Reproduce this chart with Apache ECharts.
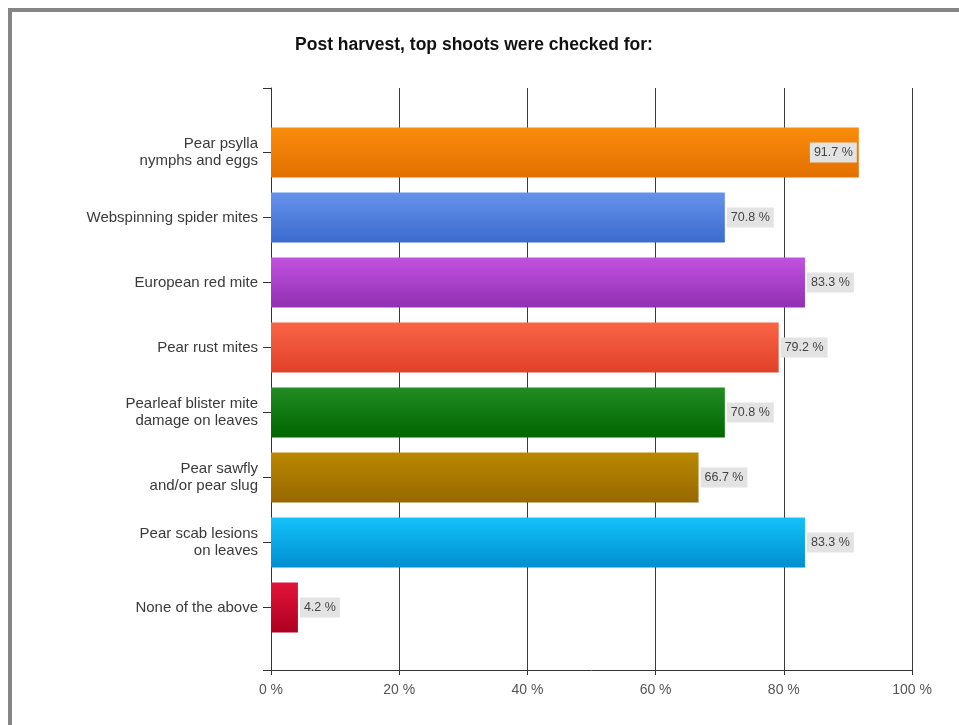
<!DOCTYPE html>
<html>
<head>
<meta charset="utf-8">
<script src="https://cdn.jsdelivr.net/npm/echarts@6/dist/echarts.min.js"></script>
<style>
html,body{margin:0;padding:0;background:#fff;}
#chart{width:959px;height:725px;}
</style>
</head>
<body>
<div id="chart"></div>
<script>
const titleText = 'Post harvest, top shoots were checked for:';
const categories = [
  'Pear psylla\nnymphs and eggs',
  'Webspinning spider mites',
  'European red mite',
  'Pear rust mites',
  'Pearleaf blister mite\ndamage on leaves',
  'Pear sawfly\nand/or pear slug',
  'Pear scab lesions\non leaves',
  'None of the above'
];
const values = [91.7, 70.8, 83.3, 79.2, 70.8, 66.7, 83.3, 4.2];
const xTicks = [0, 20, 40, 60, 80, 100];

const barColors = [
  ['#f98c0c', '#e27000'],
  ['#6592ea', '#3b6bcf'],
  ['#c252e0', '#9030b2'],
  ['#fa6446', '#e0412a'],
  ['#238c23', '#006600'],
  ['#bb8800', '#976800'],
  ['#14c2f8', '#008ed0'],
  ['#e2143a', '#ae0020']
];

const FONT = '"Liberation Sans", Arial, sans-serif';
const chart = echarts.init(document.getElementById('chart'), null, {renderer: 'canvas'});

const barData = values.map((v, i) => {
  const item = {
    value: v,
    itemStyle: {
      color: new echarts.graphic.LinearGradient(0, 0, 0, 1, [
        {offset: 0, color: barColors[i][0]},
        {offset: 1, color: barColors[i][1]}
      ])
    }
  };
  if (v > 88) {
    item.label = {position: 'insideRight', distance: 2};
  }
  return item;
});

chart.setOption({
  backgroundColor: '#ffffff',
  animation: false,
  graphic: [
    {
      type: 'rect', z: 100, silent: true,
      shape: {x: 10, y: 10, width: 1100, height: 1100},
      style: {fill: 'none', stroke: '#858585', lineWidth: 4}
    },
    {
      type: 'text', z: 100,
      x: 474, y: 45,
      style: {
        text: titleText,
        font: 'bold 17.5px ' + FONT,
        fill: '#111',
        align: 'center',
        verticalAlign: 'middle'
      }
    }
  ],
  grid: [
    {left: 271, right: 47, top: 88, bottom: 55},
    {left: 271, right: 47, top: 120, bottom: 85}
  ],
  xAxis: [
    {
      gridIndex: 0, type: 'value', min: 0, max: 100, interval: 20,
      axisLine: {show: true, lineStyle: {color: '#333', width: 1}},
      axisTick: {show: true, length: 5, lineStyle: {color: '#333'}},
      axisLabel: {
        formatter: v => xTicks.includes(v) ? v + ' %' : '',
        color: '#555', fontSize: 14, fontFamily: FONT, margin: 13
      },
      splitLine: {show: true, lineStyle: {color: '#3a3a3a', width: 1}}
    },
    {
      gridIndex: 1, type: 'value', min: 0, max: 100, show: false,
      splitLine: {show: false}
    }
  ],
  yAxis: [
    {
      gridIndex: 0, type: 'value', min: 0, max: 1, interval: 1,
      axisLine: {show: true, lineStyle: {color: '#333', width: 1}},
      axisTick: {show: true, length: 8, lineStyle: {color: '#333'}},
      axisLabel: {show: false},
      splitLine: {show: false}
    },
    {
      gridIndex: 1, type: 'category', inverse: true, data: categories,
      axisLine: {show: false},
      axisTick: {show: true, alignWithLabel: true, length: 8, lineStyle: {color: '#333'}},
      axisLabel: {
        color: '#3a3a3a', fontSize: 15, fontFamily: FONT, margin: 13,
        lineHeight: 17, align: 'right'
      },
      splitLine: {show: false}
    }
  ],
  series: [
    {
      type: 'bar',
      xAxisIndex: 1, yAxisIndex: 1,
      barWidth: 50,
      data: barData,
      label: {
        show: true,
        position: 'right',
        distance: 2,
        formatter: p => p.value.toFixed(1) + ' %',
        backgroundColor: '#e3e3e3',
        padding: [4, 4, 3, 4],
        color: '#444',
        fontSize: 12.5,
        fontFamily: FONT
      }
    }
  ]
});
</script>
</body>
</html>
